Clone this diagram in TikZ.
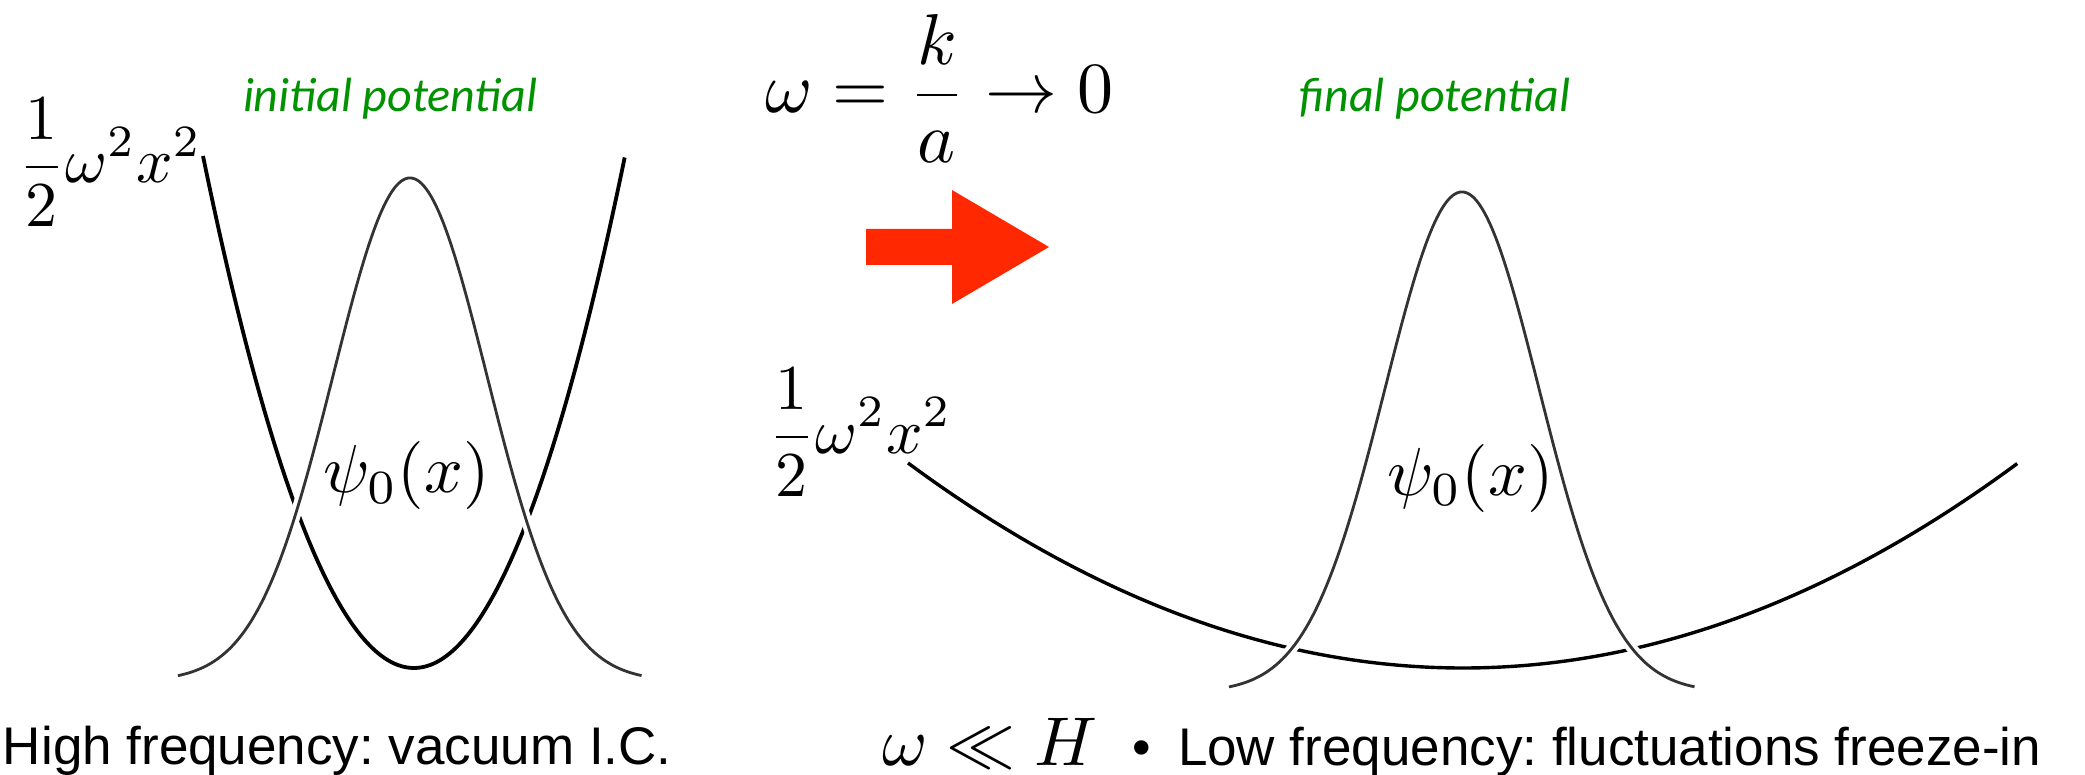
\documentclass[tikz,border=0pt]{standalone}
\usepackage{fontspec}
\usepackage{graphicx}
\setsansfont{Liberation Sans}
\newfontfamily\greenfont{Carlito}
\definecolor{potgreen}{RGB}{0,146,0}
\definecolor{arrowred}{RGB}{255,40,0}
\frenchspacing
\begin{document}
\begin{tikzpicture}[x=0.5pt,y=-0.5pt,
  lbl/.style={inner sep=0pt, outer sep=0pt, anchor=base west},
  greenlbl/.style={lbl, text=potgreen, font=\greenfont\itshape\fontsize{24}{28}\selectfont},
  sanslbl/.style={lbl, font=\sffamily\fontsize{26.5}{30}\selectfont},
  potential/.style={draw=black, line width=1.9pt},
  wavefn/.style={draw=black!80, line width=1.4pt, preaction={draw=white, line width=5.5pt}},
  bigarrow/.style={fill=arrowred, draw=none}]
\path[use as bounding box] (0,0) rectangle (2085,775);

% left panel: potential and wave function
\draw[potential] plot[domain=-1:1, samples=100, smooth] ({414+211*\x},{668-512*\x*\x});
\draw[wavefn] plot[domain=-1:1, samples=140, smooth] ({410+232*\x},{681-503*exp(-4.539*\x*\x)});

% right panel: potential and wave function
\draw[potential, line width=1.7pt] plot[domain=-1:1, samples=100, smooth] ({1463+555*\x},{668-205*\x*\x});
\draw[wavefn] plot[domain=-1:1, samples=140, smooth] ({1462+233*\x},{692-500*exp(-4.578*\x*\x)});

% red arrow
\fill[bigarrow] (866,229) -- (952,229) -- (952,190) -- (1049,247) -- (952,304) -- (952,265) -- (866,265) -- cycle;

% labels
\node[lbl] (vl) at (18,183) {\scalebox{3.2}{$\displaystyle\frac{1}{2}\omega^2x^2$}};
\node[lbl] (vr) at (768,453) {\scalebox{3.2}{$\displaystyle\frac{1}{2}\omega^2x^2$}};
\node[greenlbl] (init) at (243,112) {initial potential};
\node[greenlbl] (fin) at (1299,112) {final potential};
\node[lbl] (wk) at (765,113) {\scalebox{3.6}{$\displaystyle\omega=\frac{k}{a}\to0$}};
\node[lbl] (psil) at (323,493) {\scalebox{3.4}{$\psi_0(x)$}};
\node[lbl] (psir) at (1387,495) {\scalebox{3.4}{$\psi_0(x)$}};
\node[sanslbl] (high) at (3,764) {High frequency: vacuum I.C.};
\node[lbl] (wH) at (882,765) {\scalebox{3.45}{$\omega\ll H$}};
\node[sanslbl, anchor=base] (bul) at (1142,765) {•};
\node[sanslbl] (low) at (1178,765) {Low frequency: fluctuations freeze-in};
\end{tikzpicture}
\end{document}
